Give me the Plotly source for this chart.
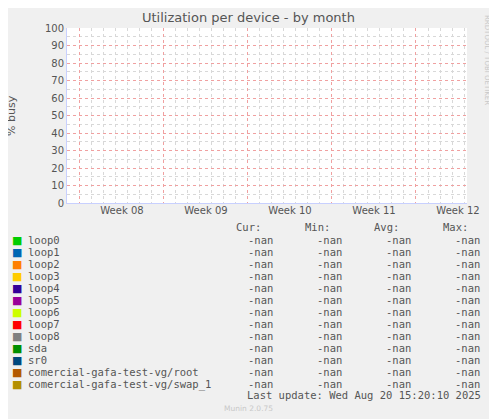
import plotly.graph_objects as go

# series (all values are nan in the source)
devices = ["loop0", "loop1", "loop2", "loop3", "loop4", "loop5", "loop6", "loop7",
           "loop8", "sda", "sr0", "comercial-gafa-test-vg/root", "comercial-gafa-test-vg/swap_1"]
colors = ["#00cc00", "#0066b3", "#ff8000", "#ffcc00", "#330099", "#990099", "#ccff00",
          "#ff0000", "#808080", "#008f00", "#00487d", "#b35a00", "#b38f00"]
cur = ["-nan"] * len(devices)
mins = ["-nan"] * len(devices)
avgs = ["-nan"] * len(devices)
maxs = ["-nan"] * len(devices)
week_labels = ["Week 08", "Week 09", "Week 10", "Week 11", "Week 12"]
week_start = 1.08  # first week boundary, days from left edge
days_span = 33.33

# page body adds an 8px offset, so the figure is drawn smaller and coords shifted
OFF = 8
W, H = 497 - OFF, 419 - OFF
L, R, T, B = 67 - OFF, 467 - OFF, 28 - OFF, 203 - OFF

def px(x):
    return (x - OFF - L) / (R - L)

def py(y):
    return (B - (y - OFF)) / (B - T)

fig = go.Figure()
for name, c in zip(devices, colors):
    fig.add_trace(go.Scatter(x=[0, days_span], y=[None, None], mode="lines",
                             line=dict(color=c), name=name, showlegend=False))

bounds = [week_start + 7 * i for i in range(5)]
mids = [b + 3.5 for b in bounds]

fig.update_layout(
    width=W, height=H, paper_bgcolor="#f0f0f0", plot_bgcolor="white",
    margin=dict(l=L, r=W - R, t=T, b=H - B, autoexpand=False),
    font=dict(family="DejaVu Sans", size=10, color="#555555"),
    showlegend=False,
    xaxis=dict(range=[0, days_span], tickvals=bounds, showticklabels=False,
               showgrid=True, gridcolor="#f0a0a0", griddash="dot", ticks="",
               minor=dict(dtick=1, tick0=week_start, showgrid=True,
                          gridcolor="#d8d8d8", griddash="dot"),
               showline=True, linecolor="#c8d0ff", zeroline=False),
    xaxis2=dict(range=[0, days_span], overlaying="x", side="bottom",
                tickvals=mids, ticktext=week_labels, showgrid=False,
                ticks="", zeroline=False, tickfont=dict(size=10, color="#555555")),
    yaxis=dict(range=[0, 100], dtick=10, showgrid=True, gridcolor="#f0a0a0",
               griddash="dot", ticks="", zeroline=False,
               minor=dict(dtick=5, showgrid=True, gridcolor="#d8d8d8", griddash="dot"),
               showline=True, linecolor="#c8d0ff",
               tickfont=dict(size=10, color="#555555")),
)
fig.add_trace(go.Scatter(x=[0], y=[None], xaxis="x2", showlegend=False))

ann = []
ann.append(dict(text="Utilization per device - by month", x=px(248), y=py(18),
                font=dict(size=13, color="#555555")))
ann.append(dict(text="% busy", x=px(11), y=py(115), textangle=-90,
                font=dict(size=11, color="#555555")))
ann.append(dict(text="RRDTOOL / TOBI OETIKER", x=px(487), y=py(60), textangle=90,
                font=dict(size=7, color="#c8c8c8")))

mono = dict(family="DejaVu Sans Mono", size=10.5, color="#555555")
col_right = [275, 344, 413, 482]
for hdr, xr in zip(["Cur:", "Min:", "Avg:", "Max:"], col_right):
    ann.append(dict(text=hdr, x=px(xr - 12), y=py(227), xanchor="right", font=mono))
for i, (name, c) in enumerate(zip(devices, colors)):
    y = py(240 + 12 * i)
    ann.append(dict(text="■", x=px(17), y=y, font=dict(size=11, color=c)))
    ann.append(dict(text=name, x=px(26), y=y, xanchor="left", font=mono))
    for vals, xr in zip([cur, mins, avgs, maxs], col_right):
        ann.append(dict(text=vals[i], x=px(xr), y=y, xanchor="right", font=mono))
ann.append(dict(text="Last update: Wed Aug 20 15:20:10 2025", x=px(483), y=py(395),
                xanchor="right", font=mono))
ann.append(dict(text="Munin 2.0.75", x=px(248), y=py(408),
                font=dict(size=7.5, color="#c8c8c8")))

for a in ann:
    a.setdefault("xanchor", "center")
    a.update(xref="paper", yref="paper", showarrow=False, yanchor="middle")
fig.update_layout(annotations=ann)

fig.write_html("out.html")
